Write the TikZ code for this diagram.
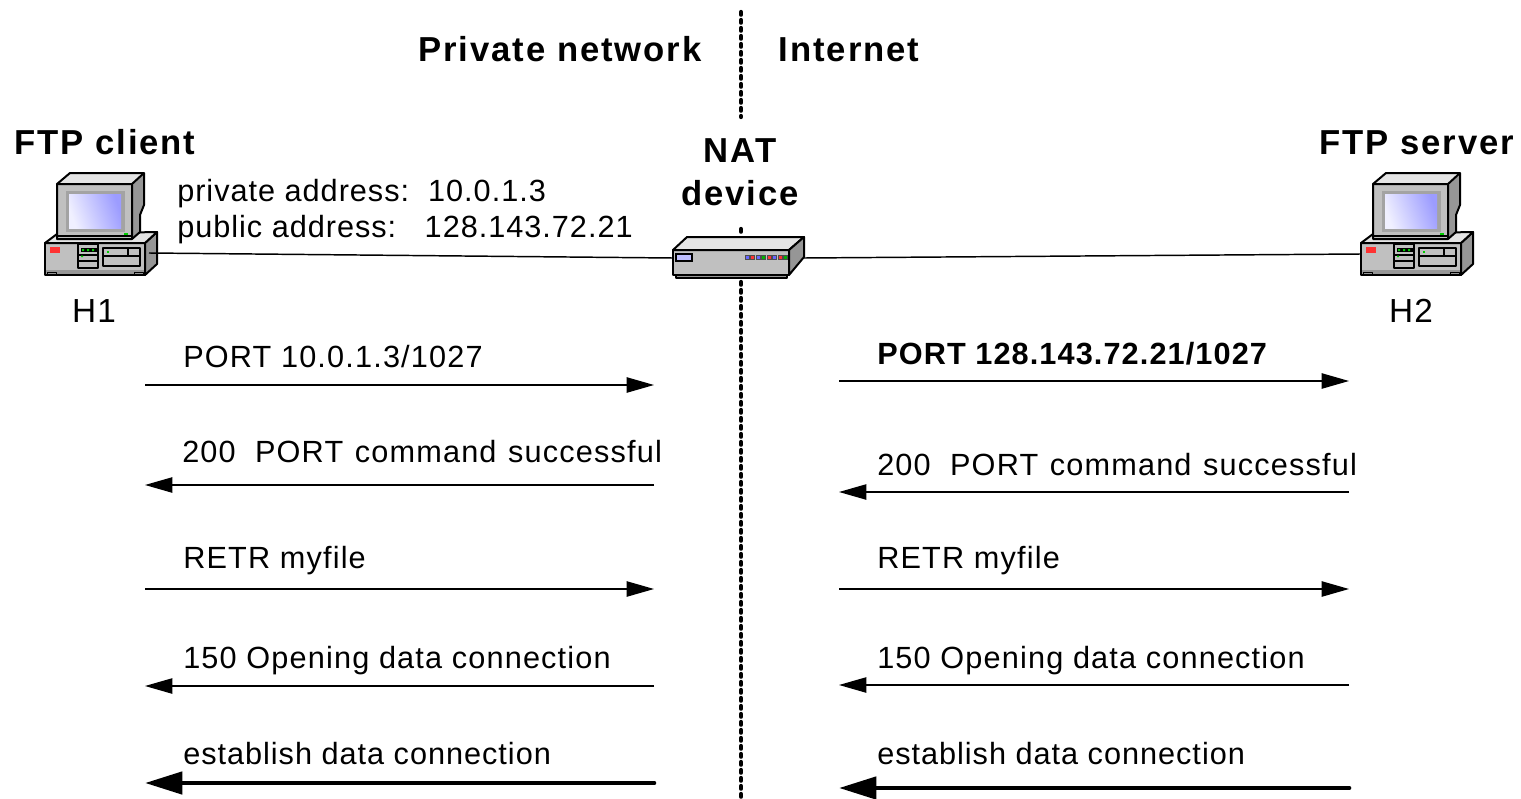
\documentclass[tikz,border=0pt]{standalone}
\usepackage{fontspec}
\setmainfont{Liberation Sans}
\usetikzlibrary{arrows.meta}
\definecolor{gA}{HTML}{C0C0C0}
\definecolor{gB}{HTML}{E4E4E4}
\definecolor{gC}{HTML}{969696}
\definecolor{scrA}{HTML}{F0F0FF}
\definecolor{scrB}{HTML}{AAAAF8}
\definecolor{scrC}{HTML}{9C9CFF}
\newfontfamily\lblfont[LetterSpace=3.8]{Liberation Sans}
\newfontfamily\addrfont[LetterSpace=3.2]{Liberation Sans}
\newfontfamily\boldlblfont[LetterSpace=3.6,BoldFont={Liberation Sans Bold}]{Liberation Sans}
\newfontfamily\headfont[LetterSpace=5.5]{Liberation Sans}
\tikzset{
  x=0.75pt,y=-0.75pt,
  lbl/.style={anchor=base west,inner sep=0pt,font=\lblfont\fontsize{23}{27}\selectfont,text=black},
  addr/.style={anchor=base west,inner sep=0pt,font=\addrfont\fontsize{23}{27}\selectfont,text=black},
  hostlbl/.style={anchor=base,inner sep=0pt,font=\lblfont\fontsize{25}{29}\selectfont,text=black},
  bold lbl/.style={anchor=base west,inner sep=0pt,font=\boldlblfont\fontsize{23}{27}\selectfont\bfseries,text=black},
  head/.style={anchor=base,inner sep=0pt,font=\headfont\fontsize{26}{30}\selectfont\bfseries,text=black},
  msg/.style={draw=black,line width=1pt,-{Triangle[length=20.5pt,width=11.5pt]}},
  bigmsg/.style={draw=black,line width=3.5pt,line cap=round,-{Triangle[length=28pt,width=16.5pt]}},
  link/.style={draw=black,line width=1.1pt},
  border/.style={draw=black,line width=3.2pt,line cap=round,dash pattern=on 2pt off 4pt},
  eq/.style={draw=black,line width=1.5pt,line join=round},
}
\newcommand{\pcicon}[2]{%
\begin{scope}[shift={(#1,#2)}]
 \fill[gA,eq] (45,243) rectangle (145,275);
 \fill[gC,eq] (145,243)--(157,232)--(157,264)--(145,275)--cycle;
 \fill[gB,eq] (57,234)--(45,243)--(145,243)--(157,232)--cycle;
 \fill[gC] (46,270) rectangle (144,274);
 \draw[eq,line width=.7pt] (47,272) rectangle (56,275) (134,272) rectangle (143,275);
 \fill[red!80!white] (50,247) rectangle (60,253);
 \draw[eq,line width=.8pt] (78,244) rectangle (98,268) (78,255)--(98,255) (78,261)--(98,261);
 \fill[black] (81,248) rectangle (97,252);
 \fill[green!80!black] (82,249) rectangle (84,251) (87,249) rectangle (89,251) (92,249) rectangle (94,251) (81,255.5) rectangle (83,257);
 \draw[eq,line width=.8pt] (103,248) rectangle (140,266) (103,256)--(140,256) (128,248)--(128,256);
 \fill[green!80!black] (107,251) rectangle (109,253);
 \fill[gB] (57,184)--(70,173)--(144,173)--(132,184)--cycle;
 \fill[gC] (132,184)--(144,173)--(144,205)--(140,215)--(140,232)--(132,239)--cycle;
 \fill[gA] (57,184) rectangle (132,239);
 \draw[eq] (57,239)--(57,184)--(70,173)--(144,173)--(144,205)--(140,215)--(140,232)--(132,239)--cycle;
 \draw[eq] (57,184)--(132,184)--(144,173) (132,184)--(132,239);
 \draw[eq,line width=1pt] (57,236)--(132,236);
 \fill[gC!70!gA] (66,191) rectangle (125,232);
 \shade[left color=scrA,middle color=scrB,right color=scrC,shading angle=110] (69,194) rectangle (121,228);
 \fill[green!80!black] (124,233) rectangle (128,235);
\end{scope}}
\begin{document}
\begin{tikzpicture}
\useasboundingbox (0,0) rectangle (1521,799);
\fill[white] (0,0) rectangle (1521,799);
% border lines
\coordinate (ba) at (741,12); \coordinate (bb) at (741,117);
\coordinate (bc) at (741,229); \coordinate (bd) at (741,234);
\coordinate (be) at (741,282); \coordinate (bf) at (741,799);
\draw[border] (ba)--(bb) (bc)--(bd) (be)--(bf);
% links
\coordinate (h1port) at (149,253); \coordinate (natl) at (673,258);
\coordinate (natr) at (804,258); \coordinate (h2port) at (1361,254);
\pcicon{0}{0}
\pcicon{1316}{0}
\draw[link] (h1port)--(natl) (natr)--(h2port);
% NAT
\fill[gC,eq] (676,275) rectangle (787,278);
\fill[gA,eq] (673,250) rectangle (789,275);
\fill[gB,eq] (673,250)--(687,237)--(804,237)--(789,250)--cycle;
\fill[gC,eq] (789,250)--(804,237)--(804,257)--(789,275)--cycle;
\fill[blue!25!white,draw=black,line width=.9pt] (676,254) rectangle (692,261);
\foreach \x/\c in {747/blue!60,752.5/red!80,758/blue!60,763.5/green!70!black,769/red!80,774.5/blue!60,780/red!80,785/green!70!black}
  \fill[\c,draw=black!70,line width=.4pt] (\x-1.8,255) rectangle (\x+1.8,259.5);
% headings
\node[head] (pn) at (560,62) {Private network};
\node[head] (inet) at (849,62) {Internet};
\node[head] (cl) at (105,154) {FTP client};
\node[head] (sv) at (1417,154) {FTP server};
\node[head] (nat1) at (740,162) {NAT};
\node[head] (nat2) at (740,205) {device};
\node[addr] (priv) at (177,201) {private address:\ \ 10.0.1.3};
\node[addr] (pub) at (177,237) {public address:\ \ \ 128.143.72.21};
\node[hostlbl] (h1) at (94,322) {H1};
\node[hostlbl] (h2) at (1411,322) {H2};
% messages
\node[lbl] (l1) at (183,367) {PORT 10.0.1.3/1027};
\node[lbl] (l2) at (182,462) {200\ \ PORT\hspace{1.5pt} command\hspace{1.5pt} successful};
\node[lbl] (l3) at (183,568) {RETR myfile};
\node[lbl] (l4) at (183,668) {150 Opening data connection};
\node[addr] (l5) at (183,764) {establish data connection};
\node[bold lbl] (r1) at (877,364) {PORT 128.143.72.21/1027};
\node[lbl] (r2) at (877,475) {200\ \ PORT\hspace{1.5pt} command\hspace{1.5pt} successful};
\node[lbl] (r3) at (877,568) {RETR myfile};
\node[lbl] (r4) at (877,668) {150 Opening data connection};
\node[addr] (r5) at (877,764) {establish data connection};
% arrow ends
\foreach \n/\y in {a/385,b/485,c/589,d/686,e/783}{\coordinate (L\n) at (145,\y); \coordinate (M\n) at (654,\y);}
\foreach \n/\y in {a/381,b/492,c/589,d/685,e/788}{\coordinate (R\n) at (839,\y); \coordinate (S\n) at (1349,\y);}
\draw[msg] (La)--(Ma);
\draw[msg] (Mb)--(Lb);
\draw[msg] (Lc)--(Mc);
\draw[msg] (Md)--(Ld);
\draw[bigmsg] (Me)--(Le);
\draw[msg] (Ra)--(Sa);
\draw[msg] (Sb)--(Rb);
\draw[msg] (Rc)--(Sc);
\draw[msg] (Sd)--(Rd);
\draw[bigmsg] (Se)--(Re);
\end{tikzpicture}
\end{document}
